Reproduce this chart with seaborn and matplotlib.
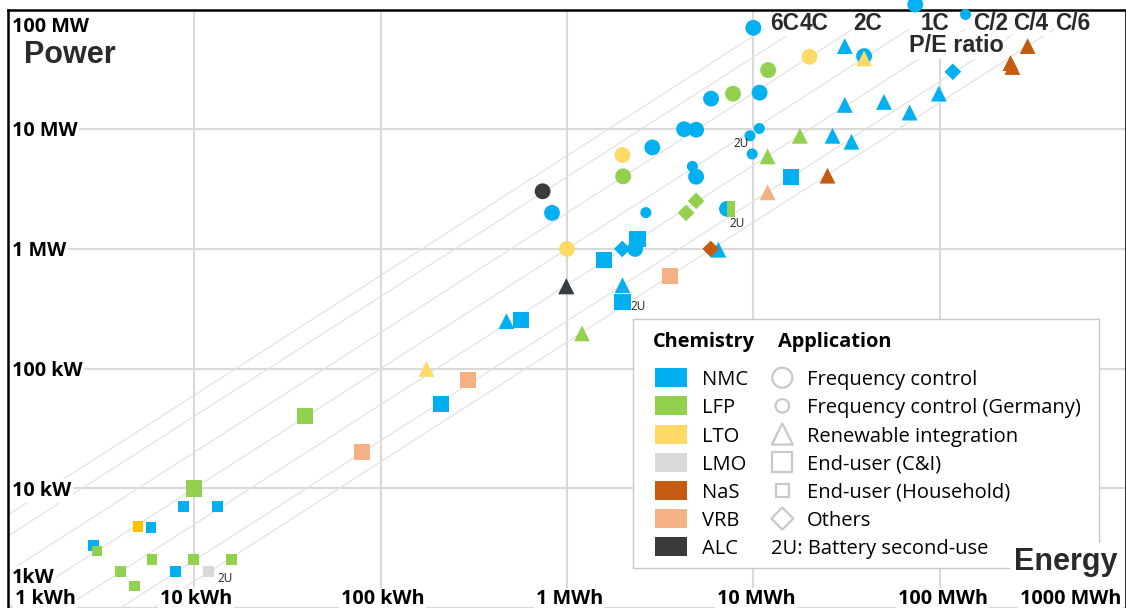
import numpy as np
import pandas as pd
import matplotlib
matplotlib.use("Agg")
import matplotlib.pyplot as plt
import seaborn as sns
from matplotlib.path import Path
from matplotlib.patches import Rectangle

# ---------------- data ----------------
chemistries = ["NMC", "LFP", "LTO", "LMO", "NaS", "VRB", "ALC"]
chem_colors = ["#00B0F0", "#92D050", "#FFD966", "#D9D9D9", "#C55A11", "#F4B183", "#3A3A3A"]

applications = ["Frequency control", "Frequency control (Germany)", "Renewable integration",
                "End-user (C&I)", "End-user (Household)", "Others"]

# energy in kWh, power in kW
fc_energy = [10000, 74000, 39300, 20000, 12000, 5930, 7780, 10800, 4250, 4930, 2870,
             1985, 2000, 4930, 740, 831, 7220, 1000, 2320]
fc_power = [70300, 110000, 40800, 40300, 31200, 18000, 19800, 20200, 10000, 9900, 7040,
            6090, 4040, 4010, 3030, 2000, 2160, 1000, 1000]
fc_chem = ["NMC", "NMC", "NMC", "LTO", "LFP", "NMC", "LFP", "NMC", "NMC", "NMC", "NMC",
           "LTO", "LFP", "NMC", "ALC", "NMC", "NMC", "LTO", "NMC"]
fc_2u = [False] * 16 + [True, False, False]

fcg_energy = [137700, 9590, 10760, 9860, 4710, 2650]
fcg_power = [90900, 8810, 10140, 6210, 4890, 2010]
fcg_chem = ["NMC"] * 6
fcg_2u = [False, True, False, False, False, False]

ri_energy = [30960, 39300, 296600, 239900, 245700, 30960, 50240, 69000, 99000, 17770, 26600,
             33630, 11930, 11930, 25000, 6490, 1985, 991, 991, 473, 1203, 176]
ri_power = [49500, 39000, 49500, 35700, 33100, 15960, 16900, 13770, 19820, 8810, 8810,
            7850, 5930, 2970, 4090, 985, 497, 487, 487, 249, 197, 99.3]
ri_chem = ["NMC", "LTO", "NaS", "NaS", "NaS", "NMC", "NMC", "NMC", "NMC", "LFP", "NMC",
           "NMC", "LFP", "VRB", "NaS", "NMC", "NMC", "NMC", "ALC", "NMC", "LFP", "LTO"]

ci_energy = [2388, 1585, 1985, 3575, 567, 293, 210, 39.3, 79.8, 10, 15900]
ci_power = [1216, 802, 361, 594, 254, 80.4, 50.7, 40.3, 20.1, 9.95, 4015]
ci_chem = ["NMC", "NMC", "NMC", "VRB", "NMC", "VRB", "NMC", "LFP", "VRB", "LFP", "NMC"]
ci_2u = [False, False, True] + [False] * 8

hh_energy = [8.78, 13.35, 4.98, 5.86, 2.88, 3.0, 5.93, 9.93, 15.9, 4.0, 7.91, 11.9, 4.77]
hh_power = [7.08, 7.08, 4.83, 4.68, 3.33, 2.99, 2.55, 2.55, 2.55, 2.01, 2.01, 2.01, 1.53]
hh_chem = ["NMC", "NMC", "LTO", "NMC", "NMC", "LFP", "LFP", "LFP", "LFP", "LFP", "NMC",
           "LMO", "LFP"]
hh_2u = [False] * 11 + [True, False]

ot_energy = [1980, 4355, 4930, 5905, 117700]
ot_power = [1000, 2000, 2520, 1000, 30200]
ot_chem = ["NMC", "LFP", "LFP", "NaS", "NMC"]

# mixed-chemistry system (second half of the marker)
mix_energy = [7220]
mix_power = [2160]
mix_chem = ["LFP"]

pe_ratios = [6, 4, 2, 1, 1 / 2, 1 / 4, 1 / 6]
pe_labels = ["6C", "4C", "2C", "1C", "C/2", "C/4", "C/6"]

x_ticks = [1, 10, 100, 1e3, 1e4, 1e5, 1e6]
x_tick_labels = ["1 kWh", "10 kWh", "100 kWh", "1 MWh", "10 MWh", "100 MWh", "1000 MWh"]
y_ticks = [1, 10, 100, 1e3, 1e4, 1e5]
y_tick_labels = ["1kW", "10 kW", "100 kW", "1 MW", "10 MW", "100 MW"]

# ---------------- style ----------------
sns.set_style("white")
plt.rcParams['font.family'] = ['Open Sans', 'DejaVu Sans']
palette = dict(zip(chemistries, chem_colors))
hh_palette = dict(palette, LTO="#FFC000")

W, H = 1126, 608
X0, XD = 6.6, 186.7     # pixel of 1 kWh, pixels per decade
Y0, YD = 608.8, 120.1   # pixel of 1 kW, pixels per decade


def e_at(px):
    return 10 ** ((px - X0) / XD)


def p_at(py):
    return 10 ** ((Y0 - py) / YD)


def ftext(px, py, s, **kw):
    return fig.text(px / W, 1 - py / H, s, **kw)


def atext(px, py, s, **kw):
    # text in figure pixels but owned by the main axes (drawn below the spines)
    return ax.text(px / W, 1 - py / H, s, transform=fig.transFigure, clip_on=False, **kw)


AX_L, AX_T = 8, 9.5
fig = plt.figure(figsize=(W / 100, H / 100), dpi=100)
fig.patch.set_facecolor("white")
ax = fig.add_axes([AX_L / W, 0, (W - AX_L) / W, (H - AX_T) / H])
ax.set_xscale("log")
ax.set_yscale("log")
ax.set_xlim(e_at(AX_L), e_at(W))
ax.set_ylim(p_at(H), p_at(AX_T))
ax.set_xticks(x_ticks)
ax.set_yticks(y_ticks)
ax.minorticks_off()
ax.tick_params(length=0, labelbottom=False, labelleft=False)
ax.grid(True, color="#d9d9d9", lw=1.5)
ax.set_axisbelow(True)
for side in ["left", "top", "right"]:
    ax.spines[side].set_color("black")
    ax.spines[side].set_linewidth(1.8)
ax.spines["bottom"].set_visible(False)
ax.set_xlabel("")
ax.set_ylabel("")

# P/E ratio lines
p_end = p_at(28)
e_start = e_at(0)
for r in pe_ratios:
    ax.plot([e_start, p_end / r], [r * e_start, p_end], color="#e2e2e2", lw=0.9, zorder=1)

# ---------------- data points ----------------
def frame(E, P, chem, app, su=None):
    return pd.DataFrame({"energy": E, "power": P, "chemistry": chem, "application": app,
                         "second_use": su if su is not None else [False] * len(E)})


groups = [
    (frame(fc_energy, fc_power, fc_chem, applications[0], fc_2u), "o", 130, palette),
    (frame(fcg_energy, fcg_power, fcg_chem, applications[1], fcg_2u), "o", 63, palette),
    (frame(ri_energy, ri_power, ri_chem, applications[2]), "^", 130, palette),
    (frame(ci_energy, ci_power, ci_chem, applications[3], ci_2u), "s", 135, palette),
    (frame(hh_energy, hh_power, hh_chem, applications[4], hh_2u), "s", 60, hh_palette),
    (frame(ot_energy, ot_power, ot_chem, applications[5]), "D", 72, palette),
]
for df, mk, size, pal in groups:
    sns.scatterplot(data=df, x="energy", y="power", hue="chemistry", palette=pal,
                    marker=mk, s=size, linewidth=0, legend=False, ax=ax,
                    clip_on=False, zorder=3)

half_marker = Path([(0, -1), (1, -1), (1, 1), (0, 1), (0, -1)],
                   [Path.MOVETO, Path.LINETO, Path.LINETO, Path.LINETO, Path.CLOSEPOLY])
mix_df = frame(mix_energy, mix_power, mix_chem, applications[0])
sns.scatterplot(data=mix_df, x="energy", y="power", hue="chemistry", palette=palette,
                marker=half_marker, s=130, linewidth=0, legend=False, ax=ax, zorder=3.5)

# second-use labels
su_offsets = {applications[0]: (1.5, -10.5, "left"), applications[1]: (-0.7, -5.4, "right"),
              applications[3]: (6, -3.1, "left"), applications[4]: (6.5, -5, "left")}
all_df = pd.concat([g[0] for g in groups])
for _, row in all_df[all_df["second_use"]].iterrows():
    dx, dy, ha = su_offsets[row["application"]]
    ax.annotate("2U", (row["energy"], row["power"]), xytext=(dx, dy), textcoords="offset points",
                ha=ha, va="center", fontsize=8.5, color="#222222", zorder=4)

# ---------------- axis labels ----------------
tick_kw = dict(fontsize=14.2, fontweight="bold", color="black",
               bbox=dict(facecolor="white", edgecolor="none", pad=1.2), zorder=4)
for v, lab in zip(y_ticks, y_tick_labels):
    gy = Y0 - YD * np.log10(v)
    if gy < 20:
        base = gy + 23.5
    elif gy > 600:
        base = gy - 26.1
    else:
        base = gy + 7.3
    ftext(12, base, lab, ha="left", va="baseline", **tick_kw)
for v, lab in zip(x_ticks, x_tick_labels):
    gx = X0 + XD * np.log10(v)
    if gx < 20:
        ftext(15, 604.3, lab, ha="left", va="baseline", **tick_kw)
    elif gx > W - 20:
        ftext(1121, 604.3, lab, ha="right", va="baseline", **tick_kw)
    else:
        ftext(gx + 2.5, 604.3, lab, ha="center", va="baseline", **tick_kw)

title_kw = dict(family=["Liberation Sans", "DejaVu Sans"], fontweight="bold", color="#2a2a2a")
ftext(24, 62.7, "Power", fontsize=22, ha="left", va="baseline", zorder=5, **title_kw)
ftext(1014, 570, "Energy", fontsize=22, ha="left", va="baseline", zorder=10,
      bbox=dict(facecolor="white", edgecolor="none", pad=3), **title_kw)

pe_x = [770, 800, 853, 921, 973, 1013, 1055]
for px, lab in zip(pe_x, pe_labels):
    atext(px, 29.5, lab, fontsize=16.3, ha="left", va="baseline", zorder=2,
          bbox=dict(facecolor="white", edgecolor="none", pad=1), **title_kw)
atext(909, 51.7, "P/E ratio", fontsize=16.8, ha="left", va="baseline", zorder=2,
      bbox=dict(facecolor="white", edgecolor="none", pad=1.5), **title_kw)

# ---------------- legend ----------------
LX0, LY0, LX1, LY1 = 633, 319, 1099, 568
lax = fig.add_axes([LX0 / W, 1 - LY1 / H, (LX1 - LX0) / W, (LY1 - LY0) / H])
lax.set_xlim(LX0, LX1)
lax.set_ylim(LY1, LY0)
lax.set_xticks([])
lax.set_yticks([])
lax.set_facecolor("white")
for s in lax.spines.values():
    s.set_color("#c8c8c8")
    s.set_linewidth(1.0)

head_kw = dict(fontsize=14.4, fontweight="bold", color="black", va="baseline", ha="left")
lax.text(653, 347.5, "Chemistry", **head_kw)
lax.text(778, 347.5, "Application", **head_kw)

rows_y = [377.7 + 28.17 * i for i in range(7)]
item_kw = dict(fontsize=14.5, color="black", va="baseline", ha="left")
for yc, name in zip(rows_y, chemistries):
    lax.add_patch(Rectangle((655, yc - 9.5), 32, 19, facecolor=palette[name], edgecolor="none"))
    lax.text(701.5, yc + 7.5, name, **item_kw)

app_markers = ["o", "o", "^", "s", "s", "D"]
app_sizes = [207, 95, 230, 200, 95, 125]
for yc, name, mk, sz in zip(rows_y, applications, app_markers, app_sizes):
    lax.scatter([782.3], [yc], marker=mk, s=sz, facecolors="none", edgecolors="#c8c8c8",
                linewidths=1.6)
    lax.text(806.7, yc + 7.5, name, **item_kw)
lax.text(770.7, rows_y[6] + 7.5, "2U: Battery second-use", **item_kw)

fig.savefig("out.png", dpi=100, facecolor="white")
